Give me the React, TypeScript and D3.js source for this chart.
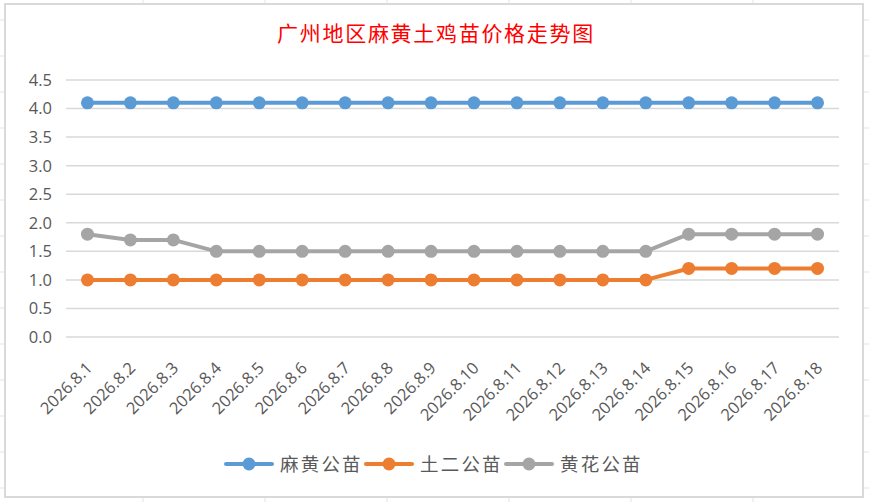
import { useRef, useEffect } from "react";
import * as d3 from "d3";

const dates = [
  "2026.8.1", "2026.8.2", "2026.8.3", "2026.8.4", "2026.8.5", "2026.8.6",
  "2026.8.7", "2026.8.8", "2026.8.9", "2026.8.10", "2026.8.11", "2026.8.12",
  "2026.8.13", "2026.8.14", "2026.8.15", "2026.8.16", "2026.8.17", "2026.8.18",
];
const mahuang = [4.1, 4.1, 4.1, 4.1, 4.1, 4.1, 4.1, 4.1, 4.1, 4.1, 4.1, 4.1, 4.1, 4.1, 4.1, 4.1, 4.1, 4.1];
const tuer = [1.0, 1.0, 1.0, 1.0, 1.0, 1.0, 1.0, 1.0, 1.0, 1.0, 1.0, 1.0, 1.0, 1.0, 1.2, 1.2, 1.2, 1.2];
const huanghua = [1.8, 1.7, 1.7, 1.5, 1.5, 1.5, 1.5, 1.5, 1.5, 1.5, 1.5, 1.5, 1.5, 1.5, 1.8, 1.8, 1.8, 1.8];
const seriesNames = ["麻黄公苗", "土二公苗", "黄花公苗"];
const seriesColors = ["#5b9bd5", "#ed7d31", "#a5a5a5"];
const yTicks = [0, 0.5, 1, 1.5, 2, 2.5, 3, 3.5, 4, 4.5];
const title = "广州地区麻黄土鸡苗价格走势图";

const W = 869;
const H = 502;

export default function App() {
  const ref = useRef<SVGSVGElement | null>(null);

  useEffect(() => {
    if (!ref.current) return;
    const svg = d3.select(ref.current);
    svg.selectAll("*").remove();

    // spreadsheet cells behind the chart
    const bg = svg.append("g");
    d3.range(20, H, 36).forEach((y) => {
      bg.append("line").attr("x1", 0).attr("x2", W).attr("y1", y).attr("y2", y)
        .attr("stroke", "#e3e3e3").attr("stroke-width", 1);
    });
    d3.range(143, W, 122).forEach((x) => {
      bg.append("line").attr("x1", x).attr("x2", x).attr("y1", 0).attr("y2", H)
        .attr("stroke", "#e3e3e3").attr("stroke-width", 1);
    });

    // chart frame
    svg.append("rect").attr("x", 5).attr("y", 4).attr("width", 858).attr("height", 493)
      .attr("fill", "#fff").attr("stroke", "#d9d9d9").attr("stroke-width", 2);

    svg.append("text").attr("x", 436).attr("y", 41).attr("text-anchor", "middle")
      .attr("font-family", "'Noto Sans CJK SC', sans-serif").attr("font-size", 21)
      .attr("letter-spacing", 1.7).attr("fill", "#ff0000").text(title);

    const x = d3.scaleBand<string>().domain(dates).range([66, 839]);
    const y = d3.scaleLinear().domain([0, 4.5]).range([337, 80]);

    // gridlines
    svg.append("g").selectAll("line").data(yTicks).join("line")
      .attr("x1", 66).attr("x2", 839)
      .attr("y1", (d) => y(d)).attr("y2", (d) => y(d))
      .attr("stroke", "#d9d9d9").attr("stroke-width", 1.5);

    // y labels
    svg.append("g").selectAll("text").data(yTicks).join("text")
      .attr("x", 52).attr("y", (d) => y(d)).attr("dy", "0.36em")
      .attr("text-anchor", "end").attr("font-family", "'Open Sans', sans-serif")
      .attr("font-size", 16.5).attr("fill", "#595959")
      .text((d) => d3.format(".1f")(d));

    // x labels
    svg.append("g").selectAll("text").data(dates).join("text")
      .attr("transform", (d) => `translate(${(x(d) ?? 0) + x.bandwidth() / 2 + 6},369) rotate(-45)`)
      .attr("text-anchor", "end")
      .attr("font-family", "'Open Sans', sans-serif").attr("font-size", 16.5)
      .attr("fill", "#595959").text((d) => d);

    const all = [mahuang, tuer, huanghua];
    const cx = (i: number) => (x(dates[i]) ?? 0) + x.bandwidth() / 2;
    const line = d3.line<number>().x((_, i) => cx(i)).y((d) => y(d));

    all.forEach((vals, si) => {
      const g = svg.append("g");
      g.append("path").attr("d", line(vals)).attr("fill", "none")
        .attr("stroke", seriesColors[si]).attr("stroke-width", 4)
        .attr("stroke-linejoin", "round").attr("stroke-linecap", "round");
      g.selectAll("circle").data(vals).join("circle")
        .attr("cx", (_, i) => cx(i)).attr("cy", (d) => y(d)).attr("r", 6.5)
        .attr("fill", seriesColors[si]);
    });

    // legend
    const legendX = [225, 365, 505];
    seriesNames.forEach((name, i) => {
      const g = svg.append("g").attr("transform", `translate(${legendX[i]},464)`);
      g.append("line").attr("x1", 1).attr("x2", 47).attr("y1", 0).attr("y2", 0)
        .attr("stroke", seriesColors[i]).attr("stroke-width", 4).attr("stroke-linecap", "round");
      g.append("circle").attr("cx", 24).attr("cy", 0).attr("r", 6.5).attr("fill", seriesColors[i]);
      g.append("text").attr("x", 55).attr("y", 0).attr("dy", "0.36em")
        .attr("font-family", "'Noto Sans CJK SC', sans-serif").attr("font-size", 18.5)
        .attr("letter-spacing", 2.2).attr("fill", "#595959").text(name);
    });
  }, []);

  return (
    <svg ref={ref} width={W} height={H}
      style={{ position: "absolute", left: 0, top: 0, background: "#fff" }} />
  );
}
